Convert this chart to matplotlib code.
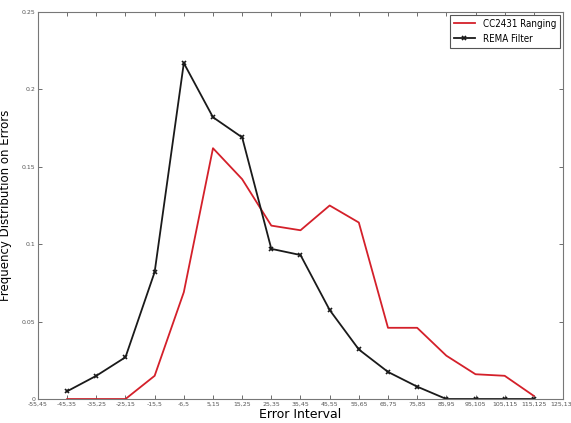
import matplotlib
matplotlib.use('Agg')
import matplotlib.pyplot as plt
import numpy as np

intervals = ['-55,45', '-45,35', '-35,25', '-25,15', '-15,5', '-6,5', '5,15',
             '15,25', '25,35', '35,45', '45,55', '55,65', '65,75', '75,85',
             '85,95', '95,105', '105,115', '115,125', '125,135']

# values for intervals -45,35 .. 115,125
cc2431 = [0.0, 0.0, 0.0, 0.015, 0.069, 0.162, 0.142, 0.112, 0.109, 0.125,
          0.114, 0.046, 0.046, 0.028, 0.016, 0.015, 0.002]
rema = [0.005, 0.015, 0.027, 0.082, 0.217, 0.182, 0.169, 0.097, 0.093, 0.0575,
        0.032, 0.0175, 0.008, 0.0, 0.0, 0.0, 0.0]

yticks = [0, 0.05, 0.1, 0.15, 0.2, 0.25]
ytick_labels = ['0', '0.05', '0.1', '0.15', '0.2', '0.25']

fig = plt.figure(figsize=(5.71, 4.23), dpi=100)
ax = fig.add_axes([0.0665, 0.0567, 0.9195, 0.915])

x = np.arange(1, 1 + len(cc2431))
ax.plot(x, cc2431, color='#d4202a', linewidth=1.3, label='CC2431 Ranging')
ax.plot(x, rema, color='#1a1a1a', linewidth=1.3, marker='x', markersize=3,
        markeredgewidth=1.2, label='REMA Filter')

ax.set_xlim(0, len(intervals) - 1)
ax.set_ylim(0, 0.25)
ax.set_xticks(np.arange(len(intervals)))
ax.set_xticklabels(intervals, fontsize=4.5, color='#444444')
ax.set_yticks(yticks)
ax.set_yticklabels(ytick_labels, fontsize=4.5, color='#444444')
ax.tick_params(direction='in', top=True, right=True, length=3, width=0.6,
               colors='#555555', pad=2)
for spine in ax.spines.values():
    spine.set_edgecolor('#777777')
    spine.set_linewidth(0.8)

ax.set_xlabel('Error Interval', fontsize=9, labelpad=1)
ax.set_ylabel('Frequency Distribution on Errors', fontsize=8.5)
ax.yaxis.set_label_coords(-0.05, 0.5)

leg = ax.legend(loc='upper right', borderaxespad=0.3, fancybox=False,
                framealpha=1, edgecolor='#555555', handlelength=2.2,
                prop={'size': 7, 'stretch': 'condensed'})
leg.get_frame().set_linewidth(0.8)

fig.savefig('out.png', dpi=100)
